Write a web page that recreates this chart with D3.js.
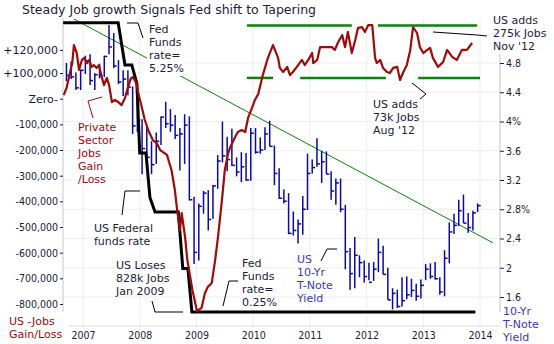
<!DOCTYPE html>
<html>
<head>
<meta charset="utf-8">
<script src="https://cdn.jsdelivr.net/npm/d3@7"></script>
<style>
  body { margin: 0; background: #fff; }
  svg { display: block; font-family: "DejaVu Sans", Verdana, sans-serif; }
  .tick text { font-family: "DejaVu Sans Condensed", "Liberation Sans", sans-serif; font-size: 10.5px; fill: #1a1a3a; }
</style>
</head>
<body>
<div id="chart"></div>
<script>
// private sector jobs gain / loss (thousands)
const jobYears = [2006.66, 2006.71, 2006.75, 2006.81, 2006.84, 2006.89, 2006.93, 2006.98, 2007.02, 2007.07,
  2007.11, 2007.15, 2007.19, 2007.24, 2007.28, 2007.33, 2007.37, 2007.42, 2007.46, 2007.51,
  2007.56, 2007.62, 2007.68, 2007.74, 2007.79, 2007.84, 2007.88, 2007.94, 2007.97, 2008.04,
  2008.09, 2008.15, 2008.23, 2008.30, 2008.36, 2008.48, 2008.56, 2008.62, 2008.66, 2008.71,
  2008.74, 2008.80, 2008.84, 2008.93, 2009.01, 2009.09, 2009.15, 2009.20, 2009.27, 2009.33,
  2009.38, 2009.45, 2009.50, 2009.56, 2009.59, 2009.68, 2009.73, 2009.80, 2009.86, 2009.91,
  2009.98, 2010.03, 2010.09, 2010.17, 2010.26, 2010.35, 2010.44, 2010.47, 2010.53, 2010.60,
  2010.65, 2010.70, 2010.77, 2010.86, 2010.91, 2010.97, 2011.04, 2011.06, 2011.13, 2011.18,
  2011.27, 2011.39, 2011.44, 2011.50, 2011.57, 2011.62, 2011.67, 2011.74, 2011.80, 2011.85,
  2011.92, 2011.97, 2012.03, 2012.10, 2012.15, 2012.18, 2012.24, 2012.29, 2012.36, 2012.41,
  2012.47, 2012.54, 2012.59, 2012.64, 2012.71, 2012.77, 2012.82, 2012.89, 2012.94, 2013.00,
  2013.07, 2013.12, 2013.17, 2013.26, 2013.35, 2013.42, 2013.51, 2013.59, 2013.68, 2013.77,
  2013.86];
const jobValues = [14, 42, 81, 139, 209, 178, 112, 151, 159, 139,
  151, 124, 131, 120, 131, 85, 53, 81, 53, -13,
  -5, -13, -25, 3, 42, 77, 85, 61, 26, -36,
  -83, -122, -161, -173, -200, -219, -278, -356, -434, -512,
  -446, -539, -629, -746, -828, -815, -757, -734, -718, -629,
  -539, -395, -278, -212, -192, -150, -130, -122, -130, -75,
  -36, -5, 18, 92, 159, 209, 159, 120, 104, 124,
  92, 104, 124, 151, 131, 151, 178, 139, 151, 201,
  201, 201, 190, 221, 248, 201, 260, 178, 229, 276,
  279, 260, 287, 287, 159, 139, 151, 120, 104, 100,
  120, 124, 73, 100, 131, 190, 279, 256, 201, 178,
  190, 198, 159, 124, 143, 190, 163, 151, 190, 190,
  217];

// US federal funds rate (%)
const fedYears = [2006.65, 2007.62, 2007.74, 2007.86, 2007.95, 2008.0, 2008.11, 2008.15, 2008.18, 2008.27,
  2008.68, 2008.76, 2008.85, 2008.92, 2013.92];
const fedRate = [5.25, 5.25, 4.52, 4.52, 4.2, 3.0, 3.0, 2.56, 2.23, 1.98,
  1.98, 1.0, 1.0, 0.25, 0.25];

// 10-yr T-note yield, monthly bars from Sep 2006 to Dec 2013
const yieldStart = 2006 + 8 / 12;
const yieldHigh = [4.80, 4.82, 4.67, 4.71,
  4.90, 4.92, 4.66, 4.79, 4.90, 5.32, 5.21, 4.84, 4.70, 4.70, 4.48, 4.28,
  4.03, 3.93, 3.73, 3.85, 4.07, 4.27, 4.17, 4.09, 3.91, 4.10, 4.07, 2.97,
  2.88, 3.05, 3.06, 3.13, 3.54, 4.00, 3.79, 3.90, 3.51, 3.58, 3.57, 3.91,
  3.91, 3.78, 3.92, 4.01, 3.67, 3.36, 3.07, 3.02, 2.77, 2.66, 2.98, 3.56,
  3.48, 3.77, 3.60, 3.59, 3.32, 3.22, 3.22, 2.86, 2.27, 2.42, 2.17, 2.10,
  2.07, 2.08, 2.40, 2.30, 2.00, 1.72, 1.70, 1.87, 1.88, 1.85, 1.78, 1.84,
  2.05, 2.06, 2.08, 1.87, 2.24, 2.62, 2.74, 2.93, 3.00, 2.75, 2.78, 2.88];
const yieldLow = [4.55, 4.58, 4.43, 4.43,
  4.65, 4.50, 4.43, 4.59, 4.61, 4.92, 4.73, 4.51, 4.35, 4.36, 3.83, 3.86,
  3.28, 3.46, 3.28, 3.42, 3.68, 3.91, 3.86, 3.76, 3.33, 3.42, 2.92, 2.05,
  2.10, 2.74, 2.51, 2.67, 3.08, 3.44, 3.32, 3.39, 3.25, 3.17, 3.19, 3.19,
  3.56, 3.56, 3.61, 3.66, 3.13, 2.94, 2.88, 2.46, 2.44, 2.33, 2.45, 2.79,
  3.29, 3.38, 3.16, 3.28, 2.93, 2.86, 2.76, 1.98, 1.70, 1.72, 1.87, 1.80,
  1.83, 1.82, 1.94, 1.91, 1.56, 1.43, 1.45, 1.47, 1.57, 1.60, 1.55, 1.58,
  1.83, 1.85, 1.84, 1.63, 1.61, 2.06, 2.46, 2.57, 2.61, 2.48, 2.51, 2.76];
const yieldClose = [4.63, 4.61, 4.46, 4.70,
  4.83, 4.56, 4.64, 4.63, 4.89, 5.02, 4.76, 4.54, 4.58, 4.47, 3.94, 4.02,
  3.63, 3.51, 3.41, 3.73, 4.06, 3.97, 3.95, 3.81, 3.83, 3.95, 2.93, 2.21,
  2.84, 3.02, 2.66, 3.12, 3.46, 3.53, 3.48, 3.40, 3.31, 3.38, 3.20, 3.84,
  3.58, 3.61, 3.83, 3.66, 3.29, 2.95, 2.91, 2.47, 2.51, 2.60, 2.80, 3.29,
  3.37, 3.42, 3.45, 3.28, 3.05, 3.16, 2.80, 2.22, 1.92, 2.17, 2.07, 1.88,
  1.80, 1.98, 2.21, 1.91, 1.56, 1.65, 1.47, 1.55, 1.63, 1.69, 1.61, 1.76,
  1.98, 1.88, 1.85, 1.67, 2.13, 2.49, 2.58, 2.78, 2.61, 2.55, 2.75, 2.85];

// falling trend line on the yield bars
const trendYears = [2006.84, 2014.23];
const trendYield = [5.40, 2.34];

// job growth range bands (thousands)
const bandTop = 285;
const bandBottom = 81;
const bandTopSpans = [[2009.89, 2011.74], [2012.20, 2013.95]];
const bandBottomSpans = [[2009.89, 2010.35], [2010.83, 2012.34], [2012.91, 2014.0]];

// axes
const yearTicks = [2007, 2008, 2009, 2010, 2011, 2012, 2013, 2014];
const leftTickValues = [190, 100, 0, -100, -200, -300, -400, -500, -600, -700, -800];
const leftTickLabels = ["+120,000", "+100,000", "Zero-", "-100,000", "-200,000", "-300,000",
  "-400,000", "-500,000", "-600,000", "-700,000", "-800,000"];
const rightTickValues = [1.6, 2, 2.4, 2.8, 3.2, 3.6, 4, 4.4, 4.8];
const rightTickLabels = ["1.6", "2", "2.4", "2.8%", "3.2", "3.6", "4%", "4.4", "4.8"];

const W = 554, H = 344;
const plot = { left: 63, right: 500, top: 18, bottom: 312 };
const darkText = "#1c1c3c", redColor = "#9e0b0b", blueColor = "#0a0aa0", greenColor = "#068506";

const svg = d3.select("#chart").append("svg")
  .attr("width", W).attr("height", H);
svg.append("rect").attr("width", W).attr("height", H).attr("fill", "#fff");

const x = d3.scaleLinear().domain([2007, 2014]).range([83, 480]);
const yJobs = d3.scaleLinear().domain([-800, 0]).range([304, 98.7]);
const yYield = d3.scaleLinear().domain([1.6, 4.8]).range([297, 63]);
const yFed = d3.scaleLinear().domain([0.25, 5.25]).range([312, 22.7]);

// grid
const grid = svg.append("g").attr("stroke", "#ededed").attr("stroke-width", 1);
grid.selectAll("line.v").data(yearTicks).enter().append("line")
  .attr("x1", d => x(d)).attr("x2", d => x(d))
  .attr("y1", plot.top).attr("y2", 328);
grid.selectAll("line.h").data(rightTickValues).enter().append("line")
  .attr("x1", plot.left).attr("x2", plot.right)
  .attr("y1", d => yYield(d)).attr("y2", d => yYield(d));

// axis lines
svg.append("line").attr("x1", plot.left).attr("x2", plot.left)
  .attr("y1", plot.top).attr("y2", plot.bottom).attr("stroke", "#c8c8c8");
svg.append("line").attr("x1", plot.right).attr("x2", plot.right)
  .attr("y1", plot.top).attr("y2", plot.bottom).attr("stroke", "#c0c0c0");
svg.append("line").attr("x1", 68).attr("x2", plot.right)
  .attr("y1", 326).attr("y2", 326).attr("stroke", "#dcdcdc");

// left axis
const leftAxis = svg.append("g")
  .attr("transform", `translate(${plot.left},0)`)
  .call(d3.axisLeft(yJobs).tickValues(leftTickValues).tickSize(3).tickPadding(2)
    .tickFormat((d, i) => leftTickLabels[i]));
leftAxis.select(".domain").remove();
leftAxis.selectAll(".tick line").attr("stroke", darkText);
leftAxis.selectAll(".tick text")
  .filter(d => d >= 0)
  .style("font-family", "'DejaVu Sans', Verdana, sans-serif")
  .style("font-size", "11px");

// right axis
const rightAxis = svg.append("g")
  .attr("transform", `translate(${plot.right},0)`)
  .call(d3.axisRight(yYield).tickValues(rightTickValues).tickSize(4).tickPadding(2)
    .tickFormat((d, i) => rightTickLabels[i]));
rightAxis.select(".domain").remove();
rightAxis.selectAll(".tick line").attr("stroke", darkText);

// bottom axis
const bottomAxis = svg.append("g")
  .attr("transform", "translate(0,326)")
  .call(d3.axisBottom(x).tickValues(yearTicks).tickSize(0).tickPadding(6)
    .tickFormat(d3.format("d")));
bottomAxis.select(".domain").remove();

// trend line
svg.append("line")
  .attr("x1", x(trendYears[0])).attr("y1", yYield(trendYield[0]))
  .attr("x2", x(trendYears[1])).attr("y2", yYield(trendYield[1]))
  .attr("stroke", greenColor).attr("stroke-width", 1);

// 10-yr yield bars
const bars = svg.append("g").attr("stroke", blueColor).attr("stroke-width", 1.5);
const barData = yieldHigh.map((h, i) => ({
  t: yieldStart + (i + 0.5) / 12, high: h, low: yieldLow[i], close: yieldClose[i]
}));
bars.selectAll("line.range").data(barData).enter().append("line")
  .attr("x1", d => x(d.t)).attr("x2", d => x(d.t))
  .attr("y1", d => yYield(d.high)).attr("y2", d => yYield(d.low));
bars.selectAll("line.close").data(barData).enter().append("line")
  .attr("x1", d => x(d.t)).attr("x2", d => x(d.t) + 3)
  .attr("y1", d => yYield(d.close)).attr("y2", d => yYield(d.close));

// fed funds rate
svg.append("path")
  .datum(fedYears.map((t, i) => [t, fedRate[i]]))
  .attr("d", d3.line().x(d => x(d[0])).y(d => yFed(d[1])))
  .attr("fill", "none").attr("stroke", "#000").attr("stroke-width", 3);

// range bands
const bands = svg.append("g").attr("stroke", greenColor).attr("stroke-width", 2.5);
bands.selectAll("line.top").data(bandTopSpans).enter().append("line")
  .attr("x1", d => x(d[0])).attr("x2", d => x(d[1]))
  .attr("y1", yJobs(bandTop)).attr("y2", yJobs(bandTop));
bands.selectAll("line.bottom").data(bandBottomSpans).enter().append("line")
  .attr("x1", d => x(d[0])).attr("x2", d => x(d[1]))
  .attr("y1", yJobs(bandBottom)).attr("y2", yJobs(bandBottom));

// private sector jobs
svg.append("path")
  .datum(jobYears.map((t, i) => [t, jobValues[i]]))
  .attr("d", d3.line().x(d => x(d[0])).y(d => yJobs(d[1])))
  .attr("fill", "none").attr("stroke", redColor).attr("stroke-width", 2.2)
  .attr("stroke-linejoin", "round");

// annotations
const notes = [
  { lines: ["Fed", "Funds", "rate=", "5.25%"], x: 149, y: 29, color: darkText, bg: true },
  { lines: ["Private", "Sector", "Jobs", "Gain", "/Loss"], x: 78, y: 127, color: redColor },
  { lines: ["US Federal", "funds rate"], x: 94, y: 228, color: darkText },
  { lines: ["US Loses", "828k Jobs", "Jan 2009"], x: 116, y: 265, color: darkText },
  { lines: ["Fed", "Funds", "rate=", "0.25%"], x: 242, y: 263, color: darkText },
  { lines: ["US", "10-Yr", "T-Note", "Yield"], x: 297, y: 259, color: "#3a3ab8" },
  { lines: ["US adds", "73k Jobs", "Aug '12"], x: 373, y: 104, color: darkText },
  { lines: ["US adds", "275k Jobs", "Nov '12"], x: 493, y: 20, color: darkText, bg: true },
  { lines: ["US -Jobs", "Gain/Loss"], x: 9, y: 321, color: redColor },
  { lines: ["10-Yr", "T-Note", "Yield"], x: 503, y: 311, color: "#3a3ab8" }
];
const leaders = [
  { pts: [[127, 23], [138, 23], [143, 38]], color: "#000" },
  { pts: [[102, 97], [88, 101], [93, 118]], color: redColor },
  { pts: [[122, 215], [125, 191], [140, 191]], color: "#000" },
  { pts: [[152, 301], [155, 312], [183, 312]], color: "#000" },
  { pts: [[223, 306], [229, 281], [238, 281]], color: "#000" },
  { pts: [[321, 261], [327, 249], [337, 249]], color: "#000" },
  { pts: [[412, 83], [426, 94], [420, 99]], color: "#000" },
  { pts: [[433, 32], [477, 35], [487, 36]], color: "#000" }
];

svg.append("g").selectAll("path").data(leaders).enter().append("path")
  .attr("d", d => d3.line()(d.pts))
  .attr("fill", "none").attr("stroke", d => d.color).attr("stroke-width", 1);

const lineH = 13;
notes.forEach(n => {
  const g = svg.append("g");
  const t = g.append("text")
    .attr("font-size", 11).attr("fill", n.color);
  n.lines.forEach((s, i) => {
    t.append("tspan").attr("x", n.x).attr("y", n.y + i * lineH + 4).text(s);
  });
  if (n.bg) {
    const b = t.node().getBBox();
    g.insert("rect", "text")
      .attr("x", b.x - 2).attr("y", b.y - 1)
      .attr("width", b.width + 4).attr("height", b.height + 2)
      .attr("fill", "#fff");
  }
});

// title
svg.append("text").attr("x", 22).attr("y", 14)
  .attr("font-size", 12.5).attr("fill", darkText)
  .text("Steady Job growth Signals Fed shift to Tapering");
</script>
</body>
</html>
